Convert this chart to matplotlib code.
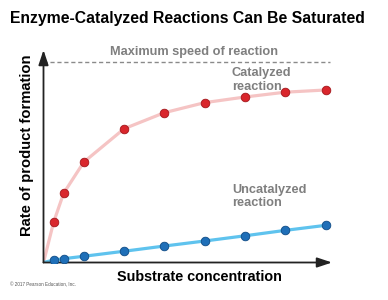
import matplotlib.pyplot as plt

plt.rcParams['font.family'] = ['Liberation Sans', 'DejaVu Sans']

# substrate concentration (arbitrary units) and relative rates (1 = max speed)
substrate = [0.25, 0.5, 1, 2, 3, 4, 5, 6, 7]
catalyzed = [0.20, 0.345, 0.50, 0.666, 0.746, 0.796, 0.824, 0.848, 0.859]
uncatalyzed = [0.012, 0.019, 0.031, 0.056, 0.082, 0.107, 0.133, 0.160, 0.185]
vmax = 1.0

fig = plt.figure(figsize=(3.88, 3.0), dpi=100)
ax = fig.add_axes([0.1121, 0.125, 0.7436, 0.7083])
ax.set_xlim(0, 7.16)
ax.set_ylim(0, 1.058)
ax.axis('off')

# axes with arrowheads
ax.annotate('', xy=(1, 0), xytext=(0, 0), xycoords='axes fraction',
            arrowprops=dict(arrowstyle='-|>,head_length=0.9,head_width=0.3',
                            color='#222222', lw=1.3, shrinkA=0, shrinkB=0))
ax.annotate('', xy=(0, 1), xytext=(0, 0), xycoords='axes fraction',
            arrowprops=dict(arrowstyle='-|>,head_length=0.9,head_width=0.3',
                            color='#222222', lw=1.3, shrinkA=0, shrinkB=0))

# maximum speed line
ax.plot([0, 7.1], [vmax, vmax], ls=(0, (3, 2)), color='#8a8a8a', lw=1)

# curves through the data
ax.plot([0] + substrate, [0] + catalyzed, color='#f5c4c4', lw=2.3,
        solid_joinstyle='round', zorder=2)
ax.plot([0] + substrate, [0] + uncatalyzed, color='#5fc3ee', lw=2.3,
        solid_joinstyle='round', zorder=2)
ax.plot(substrate, catalyzed, 'o', ms=6.2, color='#d9262c',
        mec='#a3161b', mew=0.6, zorder=3)
ax.plot(substrate, uncatalyzed, 'o', ms=6.2, color='#1f6fb8',
        mec='#0f4b85', mew=0.6, zorder=3)

gray = '#7f7f7f'
fig.text(110 / 388, 1 - 52 / 300, 'Maximum speed of reaction', color=gray,
         fontsize=9.2, fontweight='bold', ha='left', va='center')
fig.text(232 / 388, 1 - 80 / 300, 'Catalyzed\nreaction', color=gray,
         fontsize=9.2, fontweight='bold', ha='left', va='center',
         linespacing=1.2)
fig.text(232 / 388, 1 - 196.5 / 300, 'Uncatalyzed\nreaction', color=gray,
         fontsize=9.2, fontweight='bold', ha='left', va='center',
         linespacing=1.2)

fig.text(187.5 / 388, 1 - 19 / 300, 'Enzyme-Catalyzed Reactions Can Be Saturated',
         fontsize=11.3, fontweight='bold', ha='center', va='center')
fig.text(199 / 388, 1 - 277 / 300, 'Substrate concentration',
         fontsize=10.4, fontweight='heavy', ha='center', va='center')
fig.text(27.5 / 388, 1 - 145 / 300, 'Rate of product formation',
         fontsize=10.6, fontweight='bold', ha='center', va='center',
         rotation=90)
fig.text(10 / 388, 1 - 285 / 300, '\u00a9 2017 Pearson Education, Inc.',
         fontsize=3.3, color='#555555', ha='left', va='center')

fig.savefig('out.png', dpi=100)
